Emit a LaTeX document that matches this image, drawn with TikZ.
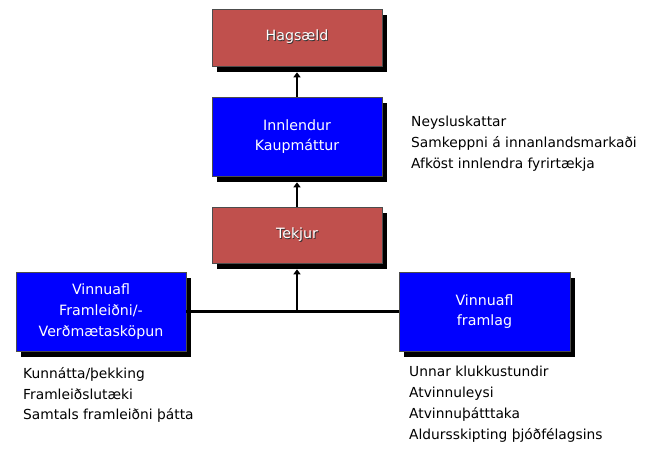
\documentclass[tikz,border=0pt]{standalone}
\usepackage{fontspec}
\setmainfont{DejaVu Sans}
\usepackage{xcolor}
\usepackage{tikz}
\usetikzlibrary{positioning,arrows.meta,shadows}
\definecolor{boxred}{RGB}{192,80,77}
\definecolor{boxblue}{RGB}{0,0,255}
\newcommand{\txtsh}[1]{\makebox[0pt][l]{\hspace{0.9pt}\raisebox{-0.9pt}{\color{black!80}#1}}#1}
\tikzset{
  bx/.style={rectangle, draw=black!70, line width=0.6pt, minimum width=170pt,
    text=white, align=center, inner sep=0pt,
    font=\fontsize{14.2}{20.6}\selectfont,
    drop shadow={shadow xshift=5pt, shadow yshift=-6pt, fill=black, opacity=1}},
  redbx/.style={bx, fill=boxred, minimum height=57pt},
  bluebx/.style={bx, fill=boxblue, minimum height=79pt},
  lst/.style={anchor=north west, align=left, inner sep=0pt,
    font=\fontsize{13.8}{20.8}\selectfont},
  ar/.style={draw=black, line width=2.4pt, -{Triangle[length=5pt,width=7pt]}},
  ln/.style={draw=black, line width=2.4pt}
}
\begin{document}
\begin{tikzpicture}[x=1pt, y=-1pt]
  \useasboundingbox (0,0) rectangle (647,448);

  % Middle column
  \node[redbx] (hag) at (297,37.5) {\txtsh{Hagsæld}};
  \node[bluebx] (inn) at (297,136.5) {Innlendur\\Kaupmáttur};
  \node[redbx, minimum height=56pt] (tek) at (297,235) {\txtsh{Tekjur}};

  % Bottom boxes
  \node[bluebx] (vfr) at (101,311.5) {Vinnuafl\\Framleiðni/-\\Verðmætasköpun};
  \node[bluebx, minimum width=171pt] (vfl) at (484.5,311.5) {Vinnuafl\\framlag};

  % Lists
  \node[lst] (lstinn) at (411,116) {Neysluskattar\\Samkeppni á innanlandsmarkaði\\Afköst innlendra fyrirtækja};
  \node[lst] (lstvfr) at (23,367) {Kunnátta/þekking\\Framleiðslutæki\\Samtals framleiðni þátta};
  \node[lst] (lstvfl) at (409,366) {Unnar klukkustundir\\Atvinnuleysi\\Atvinnuþátttaka\\Aldursskipting þjóðfélagsins};

  % Connectors
  \draw[ar] (inn.north) -- ([yshift=-6pt]hag.south);
  \draw[ar] (tek.north) -- ([yshift=-6pt]inn.south);
  \draw[ln] (vfr.east) -- (vfl.west);
  \coordinate (jn) at (tek.south |- vfr.east);
  \draw[ar] (jn) -- ([yshift=-6pt]tek.south);
\end{tikzpicture}
\end{document}
